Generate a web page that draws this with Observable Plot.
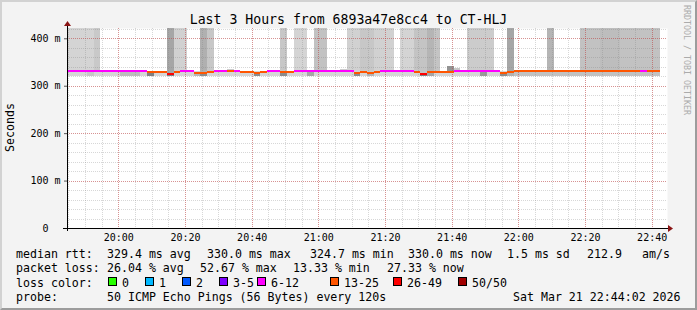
<!DOCTYPE html>
<html>
<head>
<meta charset="utf-8">
<script src="https://cdn.jsdelivr.net/npm/d3@7"></script>
<script src="https://cdn.jsdelivr.net/npm/@observablehq/plot@0.6"></script>
<style>
html, body { margin:0; padding:0; background:#f3f3f3; }
#wrap { position:relative; width:697px; height:310px; background:#f3f3f3; overflow:hidden; }
#wrap svg { position:absolute; left:0; top:0; }
#border { position:absolute; left:0; top:0; width:697px; height:310px; box-sizing:border-box;
  border-top:2px solid #d2d2d2; border-left:2px solid #d2d2d2; border-right:2px solid #9c9c9c; border-bottom:2px solid #9c9c9c;
  pointer-events:none; z-index:5; }
</style>
</head>
<body>
<div id="wrap"><div id="border"></div></div>
<script>
// ---------------- data ----------------
const titleText = "Last 3 Hours from 6893a47e8cc4 to CT-HLJ";
const yAxisLabel = "Seconds";
const watermark = "RRDTOOL / TOBI OETIKER";
const startUTC = Date.UTC(2026, 2, 21, 19, 44, 36);
const spanMinutes = 180;
const stepSeconds = 120;
const xTickLabels = ["20:00","20:20","20:40","21:00","21:20","21:40","22:00","22:20","22:40"];
const yTickValues = [0, 100, 200, 300, 400];           // ms
const yTickLabels = ["0\u00a0\u00a0", "100 m", "200 m", "300 m", "400 m"];
const yMaxMs = 421.7;
const smokeFloorMs = 321.5;

// median rtt per 120 s step (ms)
const medianMs = [
  330,330,330,330,330,330,330,330,330,330,330,330,
  329.5,329.5,329.5,325,329,
  330,330,327.5,326.5,328.5,
  330,330,332,330,
  329.5,329.5,326.5,329,
  330,330,328,329.5,
  330,330,330,330,330,330,330,330,330,
  326.5,329,326.5,329,
  330,330,330,330,330,
  329.5,324.7,328,329.5,329.5,329.5,
  330,330,330,330,330,330,330,
  326.5,329,
  330,330,330,330,330,330,330,330,330,330,330,330,330,330,330,330,330,330,330,330,330,330
];
// packet loss per step (%)
const lossPct = [
  20,22,18,20,24,20,18,16,20,22,24,22,
  30,32,28,52,30,
  22,20,32,34,30,
  20,18,28,22,
  30,28,34,30,
  20,24,32,28,
  22,20,18,16,20,14,20,22,24,
  34,30,34,30,
  20,22,13.33,18,20,
  30,52.67,34,30,28,30,
  24,20,18,20,22,20,24,
  34,30,
  28,30,32,28,30,30,28,30,32,30,28,30,30,28,30,32,30,28,30,24,30,27.33
];
// highest ping of each step (ms); 440 = beyond the top of the graph
const smokeMaxMs = [
  440,440,440,440,440,
  331,331,331,331,331,331,331,331,331,331,
  440,440,440,
  331,331,
  440,440,
  331,331,
  336,
  331,331,331,331,331,331,331,
  440,
  331,
  440,440,
  331,
  440,440,
  331,331,
  336,
  440,440,440,440,440,440,440,
  331,
  440,440,440,440,440,440,
  331,
  341,
  337,
  331,
  440,440,440,440,
  331,331,
  440,
  331,331,331,331,331,
  440,
  331,331,331,331,
  440,440,440,440,440,440,440,440,440,440,440,440
];
// smoke density of the upper pings (0 = none, 1 = all)
const smokeShade = [
  .17,.17,.17,.17,.21,
  .16,.16,.16,.16,.16,.16,.16,.16,.16,.16,
  .35,.18,.18,
  .16,.16,
  .31,.22,
  .16,.16,
  .2,
  .16,.16,.16,.16,.16,.16,.16,
  .22,
  .16,
  .17,.17,
  .16,
  .24,.24,
  .16,.16,
  .2,
  .18,.18,.22,.22,.18,.18,.18,
  .16,
  .17,.17,.23,.23,.29,.23,
  .16,
  .42,
  .22,
  .16,
  .2,.2,.2,.2,
  .16,.16,
  .35,
  .16,.16,.16,.16,.16,
  .29,
  .16,.16,.16,.16,
  .24,.24,.24,.26,.26,.26,.24,.24,.24,.24,.24,.24
];
// smoke density just below the median
const coreShade = [
  .16,.16,.16,.22,.16,.16,.16,.16,.26,.26,.26,.16,
  .5,.16,.16,.5,.16,.16,.16,.28,.45,
  .16,.16,.16,.16,.16,.16,.16,.45,.16,.16,.16,.45,
  .16,.16,.16,.35,.16,.16,.16,.16,.16,.16,.45,.16,.3,
  .16,.16,.16,.16,.16,.16,.16,.5,.35,
  .16,.16,.16,.16,.16,.16,.16,.4,.16,.16,.45,.3,
  .24,.24,.24,.24,.24,.24,.24,.24,.24,.24,.24,.24,.24,.24,.24,.24,.24,.24,.24,.24,.24,.24
];

const pingsPerStep = 50;
const lossLabels = ["0","1","2","3-5","6-12","13-25","26-49","50/50"];
const lossUpper  = [0, 1, 2, 5, 12, 25, 49, 50];
const lossColors = ["#26ff00","#00b8ff","#0059ff","#7e00ff","#ff00ff","#ff5500","#ff0000","#a10000"];

const rttStats  = ["329.4 ms avg","330.0 ms max","324.7 ms min","330.0 ms now","1.5 ms sd","212.9","am/s"];
const lossStats = ["26.04 % avg","52.67 % max","13.33 % min","27.33 % now"];
const probeText = "50 ICMP Echo Pings (56 Bytes) every 120s";
const stampText = "Sat Mar 21 22:44:02 2026";

// ---------------- build ----------------
const x0 = new Date(startUTC), x1 = new Date(startUTC + spanMinutes * 60000);
const bins = medianMs.map((m, i) => ({
  start: new Date(startUTC + i * stepSeconds * 1000),
  end: new Date(startUTC + (i + 1) * stepSeconds * 1000),
  median: m, loss: lossPct[i], smokeMax: smokeMaxMs[i], shade: smokeShade[i], core: coreShade[i]
}));
const grey = d => { const g = Math.round(255 * (1 - d)); return `rgb(${g},${g},${g})`; };
const lossColor = pct => {
  const n = Math.round(pct / 100 * pingsPerStep);
  return lossColors[lossUpper.findIndex(u => n <= u)];
};
const xTicks = xTickLabels.map(s => { const [h, m] = s.split(":").map(Number); return new Date(Date.UTC(2026, 2, 21, h, m)); });
const xLabelOf = new Map(xTicks.map((d, i) => [+d, xTickLabels[i]]));
const xMinor = d3.utcMinute.every(5).range(x0, x1);
const yMinor = d3.range(0, yMaxMs, 20);
const halfLine = yMaxMs / 200 * 1.0;

const minorGrid = "rgba(130,130,130,0.32)";
const majorGrid = "rgba(215,50,50,0.42)";
const crisp = { shapeRendering: "crispEdges" };

const chart = Plot.plot({
  width: 697, height: 250,
  marginLeft: 67, marginRight: 30, marginTop: 28, marginBottom: 22,
  style: { fontFamily: '"DejaVu Sans Mono", monospace', fontSize: "10px", background: "transparent", color: "#000", overflow: "visible" },
  x: { type: "utc", domain: [x0, x1], label: null },
  y: { domain: [0, yMaxMs], label: null },
  color: { type: "identity" },
  marks: [
    Plot.frame({ fill: "white", stroke: "none" }),
    Plot.rect(bins, { x1: "start", x2: "end", y1: smokeFloorMs, y2: "smokeMax", fill: d => grey(d.shade), clip: true, ...crisp }),
    Plot.rect(bins, { x1: "start", x2: "end", y1: smokeFloorMs, y2: d => d.median + 0.5, fill: d => grey(d.core), ...crisp }),
    Plot.ruleX(xMinor, { stroke: minorGrid, strokeDasharray: "1,1", ...crisp }),
    Plot.ruleY(yMinor, { stroke: minorGrid, strokeDasharray: "1,1", ...crisp }),
    Plot.ruleX(xTicks, { stroke: majorGrid, strokeDasharray: "1,1", ...crisp }),
    Plot.ruleY(yTickValues.slice(1), { stroke: majorGrid, strokeDasharray: "1,1", ...crisp }),
    Plot.rect(bins, { x1: "start", x2: "end", y1: d => d.median - halfLine, y2: d => d.median + halfLine, fill: d => lossColor(d.loss), ...crisp }),
    Plot.axisX({ ticks: xTicks, tickFormat: d => xLabelOf.get(+d), tickSize: 0, tickPadding: 5 }),
    Plot.axisY({ ticks: yTickValues, tickFormat: d => yTickLabels[yTickValues.indexOf(d)], tickSize: 3, tickPadding: 4, stroke: "#555" })
  ]
});

// axis lines with arrows
const sx = chart.scale("x"), sy = chart.scale("y");
const ax = Math.round(sx.apply(x0)), axR = Math.round(sx.apply(x1)), ay = Math.round(sy.apply(0)), ayT = Math.round(sy.apply(yMaxMs));
const g = d3.select(chart).append("g").attr("shape-rendering", "crispEdges");
g.append("line").attr("x1", ax - 4).attr("x2", axR + 1).attr("y1", ay + 0.5).attr("y2", ay + 0.5).attr("stroke", "#000");
g.append("line").attr("x1", ax + 0.5).attr("x2", ax + 0.5).attr("y1", ay + 3).attr("y2", ayT - 2).attr("stroke", "#000");
const ga = d3.select(chart).append("g");
ga.append("path").attr("d", `M${ax + 0.5},${ayT - 7}L${ax - 3},${ayT - 2}L${ax + 4},${ayT - 2}Z`).attr("fill", "#8a1414");
ga.append("path").attr("d", `M${axR + 6},${ay + 0.5}L${axR + 1},${ay - 3}L${axR + 1},${ay + 4}Z`).attr("fill", "#8a1414");

const wrap = document.getElementById("wrap");
wrap.appendChild(chart);

// ---------------- texts & legend ----------------
const ov = d3.create("svg").attr("width", 697).attr("height", 310)
  .style("font-family", '"DejaVu Sans Mono", monospace').attr("fill", "#000");
ov.append("text").attr("x", 348.5).attr("y", 24).attr("text-anchor", "middle").style("font-size", "13.2px").text(titleText);
ov.append("text").attr("transform", "translate(14,127.5) rotate(-90)").attr("text-anchor", "middle").style("font-size", "11.6px").text(yAxisLabel);
ov.append("text").attr("transform", "translate(684,5) rotate(90)").style("font-size", "8.3px").attr("fill", "#ababab").text(watermark);

const lf = "11.6px";
const row = (y, items) => items.forEach(([s, x]) =>
  ov.append("text").attr("x", x).attr("y", y).style("font-size", lf).style("white-space", "pre").text(s));
const rttX = [107, 207, 310, 408, 507, 587, 642];
row(257.5, [["median rtt:", 16], ...rttStats.map((s, i) => [s, rttX[i]])]);
const lossX = [107, 200, 293, 387];
row(272, [["packet loss:", 16], ...lossStats.map((s, i) => [s, lossX[i]])]);
const boxX = [108, 145, 182, 219, 257, 330, 393, 458];
row(286.5, [["loss color:", 16], ...lossLabels.map((s, i) => [s, boxX[i] + 14])]);
lossLabels.forEach((s, i) => ov.append("rect").attr("x", boxX[i] + 0.5).attr("y", 277.5).attr("width", 8).attr("height", 8)
  .attr("fill", lossColors[i]).attr("stroke", "#000").attr("stroke-width", 1).attr("shape-rendering", "crispEdges"));
row(301, [["probe:", 16], [probeText, 107], [stampText, 513]]);
wrap.appendChild(ov.node());
</script>
</body>
</html>
